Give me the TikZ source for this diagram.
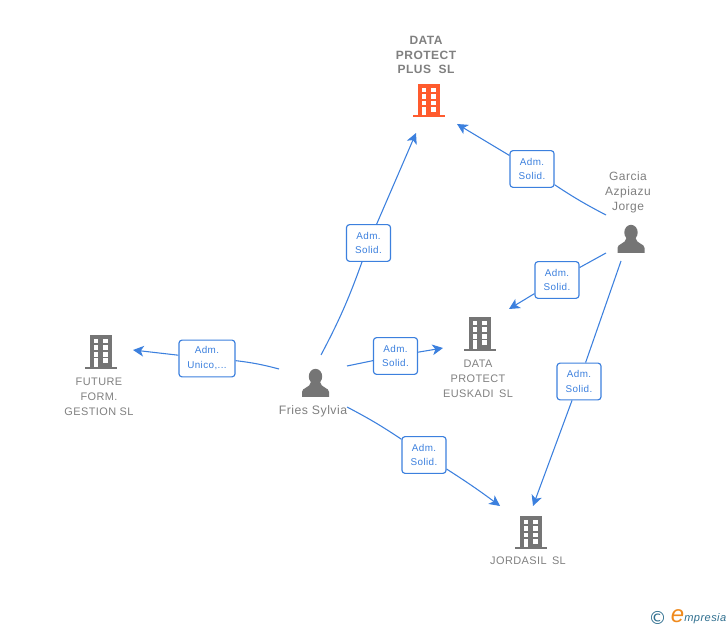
\documentclass[tikz,border=0pt]{standalone}
\usepackage{fontspec}
\setmainfont{Liberation Sans}[LetterSpace=4]
\newfontfamily\logofont{DejaVu Sans}
\usetikzlibrary{arrows.meta}
\definecolor{linkblue}{HTML}{3C80DE}
\definecolor{greytxt}{HTML}{808080}
\definecolor{icongrey}{HTML}{757575}
\definecolor{orangeic}{HTML}{FF5B2E}
\definecolor{logoteal}{HTML}{2F6F8F}
\definecolor{logoorange}{HTML}{F08A1D}
\tikzset{
  link/.style={draw=linkblue,line width=0.8pt},
  linkarrow/.style={link,-{Stealth[length=8pt,width=8pt,inset=2.2pt]}},
  rolebox/.style={draw=linkblue,fill=white,line width=0.85pt,rounded corners=2.2pt,
    minimum width=33pt,minimum height=27.5pt,inner sep=0pt,align=center,text=linkblue,
    font=\fontsize{7.4}{11.2}\selectfont},
  entitytext/.style={align=center,text=greytxt,inner sep=0pt,font=\fontsize{8.2}{11.2}\selectfont},
  pics/bldg/.style={code={
    \fill[#1] (-11,-16.5) rectangle (11,15.5);
    \fill[#1] (-16,15) rectangle (16,17);
    \foreach \ya/\yb in {-12.5/-8.5,-6.5/-1.5,0.5/5,6.5/11.5}{
      \fill[white] (2,\ya) rectangle (6.5,\yb);
    }
    \foreach \ya/\yb in {-12.5/-8.5,-6.5/-1.5,0.5/5,6.5/15}{
      \fill[white] (-7,\ya) rectangle (-3,\yb);
    }
  }},
  pics/persona/.style={code={
    \fill[icongrey] (0,-6.5) ellipse [x radius=6.7,y radius=7.7];
    \fill[icongrey] (-13.5,14) -- (-13.5,9) .. controls (-13.5,4.5) and (-5.5,5) .. (-4.5,-1)
      -- (4.5,-1) .. controls (5.5,5) and (13.5,4.5) .. (13.5,9) -- (13.5,14) -- cycle;
  }},
}
\begin{document}
\begin{tikzpicture}[x=0.75pt,y=-0.75pt]
\useasboundingbox (0,0) rectangle (728,630);
\fill[white] (0,0) rectangle (728,630);

% icons
\pic at (429,100.5) {bldg=orangeic};
\pic at (101,352) {bldg=icongrey};
\pic at (480,334) {bldg=icongrey};
\pic at (531,532) {bldg=icongrey};
\pic at (315.5,383) {persona};
\pic at (631,239) {persona};

% labels
\node[entitytext,font=\fontsize{9}{11.2}\selectfont\bfseries] (plus) at (426,55) {DATA\\PROTECT\\PLUS~~SL};
\node[entitytext] (future) at (99,396.5) {FUTURE\\FORM.\\GESTION SL};
\node[entitytext] (euskadi) at (478,379) {DATA\\PROTECT\\EUSKADI~\,SL};
\node[entitytext] (jordasil) at (528,561) {JORDASIL~\,SL};
\node[entitytext,font=\fontsize{9.2}{11.2}\selectfont] (fries) at (313,411.5) {Fries Sylvia};
\node[entitytext,font=\fontsize{9}{11.2}\selectfont] (garcia) at (628,192.5) {Garcia\\Azpiazu\\Jorge};

% role boxes
\node[rolebox] (b1) at (368.5,243) {Adm.\\Solid.};
\node[rolebox] (b2) at (532,169) {Adm.\\Solid.};
\node[rolebox] (b3) at (557,280) {Adm.\\Solid.};
\node[rolebox] (b4) at (579,381.5) {Adm.\\Solid.};
\node[rolebox] (b5) at (395.5,356) {Adm.\\Solid.};
\node[rolebox,minimum width=42pt] (b6) at (207,358.5) {Adm.\\Unico,...};
\node[rolebox] (b7) at (424,455) {Adm.\\Solid.};

% connector ends
\coordinate (s1) at (321,355);
\coordinate (e1) at (416,133);
\coordinate (s2) at (606,215);
\coordinate (e2) at (457,124);
\coordinate (s3) at (606,253);
\coordinate (e3) at (509,309);
\coordinate (s4) at (621,261);
\coordinate (e4) at (533,506);
\coordinate (s5) at (347,366);
\coordinate (e5) at (443,348);
\coordinate (s6) at (279,369);
\coordinate (e6) at (133,350);
\coordinate (s7) at (347,407);
\coordinate (e7) at (500,506);

% connectors
\draw[link] (s1) to[bend right=4] (b1);
\draw[linkarrow] (b1) to (e1);
\draw[link] (s2) to[bend left=3] (b2);
\draw[linkarrow] (b2) to (e2);
\draw[link] (s3) to (b3);
\draw[linkarrow] (b3) to (e3);
\draw[link] (s4) to (b4);
\draw[linkarrow] (b4) to (e4);
\draw[link] (s5) to (b5);
\draw[linkarrow] (b5) to (e5);
\draw[link] (s6) to[bend right=4] (b6);
\draw[linkarrow] (b6) to (e6);
\draw[link] (s7) to[bend left=3] (b7);
\draw[linkarrow] (b7) to[bend left=2] (e7);

% logo
\node[inner sep=0pt,text=logoteal,font=\logofont\fontsize{13.5}{13.5}\selectfont] (copyr) at (657.5,618) {©};
\node[inner sep=0pt,text=logoorange,font=\fontsize{18}{18}\selectfont\itshape] (logoe) at (677.5,616) {e};
\node[inner sep=0pt,anchor=west,text=logoteal,font=\fontsize{8.3}{8.3}\selectfont\itshape] (logot) at (684,618.5) {mpresia};
\end{tikzpicture}
\end{document}
